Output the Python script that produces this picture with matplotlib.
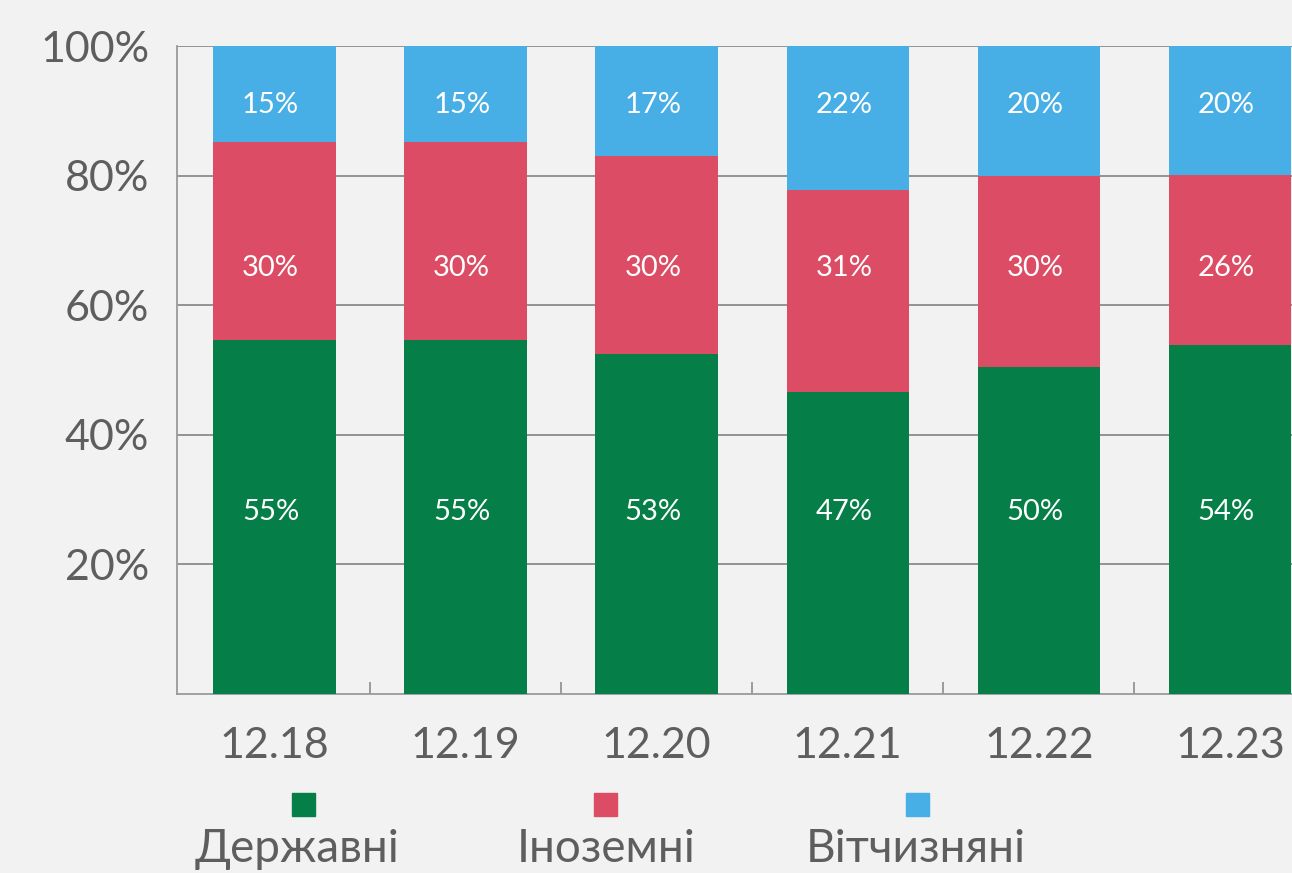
import matplotlib.pyplot as plt
from matplotlib.patches import Rectangle

# data
periods = ["12.18", "12.19", "12.20", "12.21", "12.22", "12.23"]
state = [54.6, 54.6, 52.5, 46.6, 50.5, 53.9]
foreign = [30.6, 30.6, 30.5, 31.2, 29.4, 26.3]
domestic = [14.8, 14.8, 17.0, 22.2, 20.1, 19.8]
state_lbl = ["55%", "55%", "53%", "47%", "50%", "54%"]
foreign_lbl = ["30%", "30%", "30%", "31%", "30%", "26%"]
domestic_lbl = ["15%", "15%", "17%", "22%", "20%", "20%"]
names = ["Державні", "Іноземні", "Вітчизняні"]

green = "#057f47"
red = "#dc4c64"
blue = "#47aee6"
bg = "#f2f2f2"
txt = "#5e5e5e"

plt.rcParams['font.family'] = ['Lato', 'DejaVu Sans']

fig = plt.figure(figsize=(12.92, 8.73), dpi=100, facecolor=bg)
ax = fig.add_axes([0.137, 0.205, 0.863, 0.742])
ax.set_facecolor(bg)

x = list(range(len(periods)))
w = 0.64
ax.bar(x, state, w, color=green, zorder=3)
ax.bar(x, foreign, w, bottom=state, color=red, zorder=3)
bot2 = [a + b for a, b in zip(state, foreign)]
ax.bar(x, domestic, w, bottom=bot2, color=blue, zorder=3)

# labels sit at fixed heights in each band
for i in x:
    for yy, lbl in [(28.1, state_lbl[i]), (65.7, foreign_lbl[i]), (91.0, domestic_lbl[i])]:
        ax.text(i - 0.02, yy, lbl, ha="center", va="center",
                color="white", fontsize=21, zorder=4)

ax.set_xlim(-0.51, 5.325)
ax.set_ylim(0, 100)
ax.set_yticks([20, 40, 60, 80, 100])
ax.set_yticklabels(["20%", "40%", "60%", "80%", "100%"])
ax.yaxis.grid(True, color="#8c8c8c", linewidth=1.3, zorder=0)
ax.tick_params(axis="y", length=0, pad=20, labelsize=31, labelcolor=txt)
ax.set_xticks(x)
ax.set_xticklabels(periods)
ax.tick_params(axis="x", length=0, pad=24, labelsize=31, labelcolor=txt)
ax.set_xticks([i + 0.5 for i in x[:-1]], minor=True)
ax.tick_params(axis="x", which="minor", direction="in", length=9, color="#8c8c8c", width=1.2)

for s in ["top", "right"]:
    ax.spines[s].set_visible(False)
for s in ["left", "bottom"]:
    ax.spines[s].set_color("#9a9a9a")
    ax.spines[s].set_linewidth(1.3)

# legend: square above each label
leg_x = [303, 605, 917]
leg_tx = [297, 606, 916]
for cx, tx, c, n in zip(leg_x, leg_tx, [green, red, blue], names):
    fig.add_artist(Rectangle(((cx - 11.5) / 1292, (873 - 816) / 873), 23 / 1292, 23 / 873,
                             transform=fig.transFigure, color=c))
    fig.text(tx / 1292, (873 - 862) / 873, n, ha="center", va="baseline",
             fontsize=33, color=txt)

fig.savefig("out.png", dpi=100, facecolor=bg)
